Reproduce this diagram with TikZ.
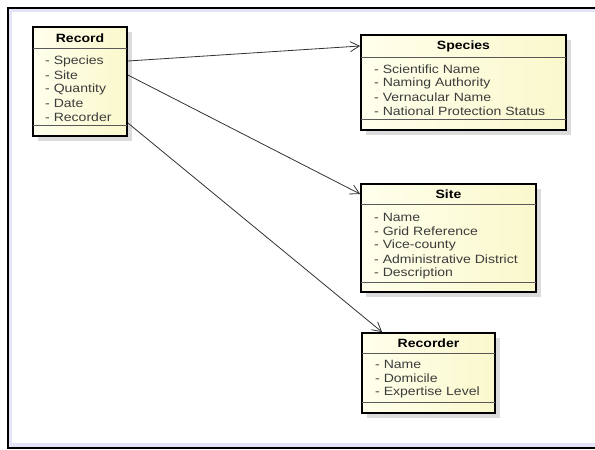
\documentclass[tikz,border=0pt]{standalone}
\usepackage{fontspec}
\setmainfont{Liberation Sans}[FakeStretch=1.17]
\usetikzlibrary{arrows.meta,shadows}
\definecolor{lavanda}{RGB}{228,228,248}
\definecolor{cremaA}{RGB}{255,255,236}
\definecolor{cremaB}{RGB}{250,248,204}
\definecolor{gristexto}{RGB}{60,60,60}
\begin{document}
\begin{tikzpicture}[x=1pt, y=-1pt,
    clase/.style={draw=black, line width=1.8pt, left color=cremaA, right color=cremaB,
      drop shadow={shadow xshift=5pt, shadow yshift=-5pt, fill=black!14, opacity=1}},
    titulo/.style={font=\fontsize{12}{14}\selectfont\bfseries, inner sep=0pt},
    attr/.style={font=\fontsize{12}{14}\selectfont, text=gristexto, anchor=west, inner sep=0pt},
    sep/.style={draw=black!65, line width=0.8pt},
    flecha/.style={draw=black!80, line width=0.8pt, -{Straight Barb[length=9pt, width=10pt]}}]
    \useasboundingbox (0,0) rectangle (595,450);

    % Marco
    \fill[white] (0,0) rectangle (595,450);
    \fill[lavanda] (8,8) rectangle (595,447);
    \fill[white] (12,12) rectangle (595,443);
    \draw[line width=1.2pt] (595,8) -- (8,8) -- (8,448) -- (595,448);

    % Clase Record
    \node[clase, minimum width=94, minimum height=109] (record) at (80,81.5) {};
    \node[titulo] (recordT) at (80,38) {Record};
    \draw[sep] (33,48) -- (127,48) (33,125) -- (127,125);
    \foreach \t [count=\i] in {Species,Site,Quantity,Date,Recorder}
      \node[attr] (record\i) at (45,47+14*\i) {- \t};

    % Clase Species
    \node[clase, minimum width=205, minimum height=95] (species) at (463.5,82.5) {};
    \node[titulo] (speciesT) at (463.5,46) {Species};
    \draw[sep] (361,57) -- (566,57) (361,119) -- (566,119);
    \foreach \t [count=\i] in {Scientific Name,Naming Authority,Vernacular Name,National Protection Status}
      \node[attr] (species\i) at (374,55+14*\i) {- \t};

    % Clase Site
    \node[clase, minimum width=175, minimum height=108] (site) at (448.5,238) {};
    \node[titulo] (siteT) at (448.5,194) {Site};
    \draw[sep] (361,204) -- (536,204) (361,282) -- (536,282);
    \foreach \t [count=\i] in {Name,Grid Reference,Vice-county,Administrative District,Description}
      \node[attr] (site\i) at (374,203+14*\i) {- \t};

    % Clase Recorder
    \node[clase, minimum width=133, minimum height=80] (recorder) at (428.5,373) {};
    \node[titulo] (recorderT) at (428.5,343) {Recorder};
    \draw[sep] (362,353) -- (495,353) (362,402) -- (495,402);
    \foreach \t [count=\i] in {Name,Domicile,Expertise Level}
      \node[attr] (recorder\i) at (375,350+14*\i) {- \t};

    % Asociaciones
    \draw[flecha] (record.east |- record1) -- (species.west |- speciesT);
    \draw[flecha] (record.east |- record2) -- (site.west |- siteT);
    \draw[flecha] ([yshift=-6pt]record.east |- record5) -- ([xshift=21pt]recorder.north west);
  \end{tikzpicture}
\end{document}
